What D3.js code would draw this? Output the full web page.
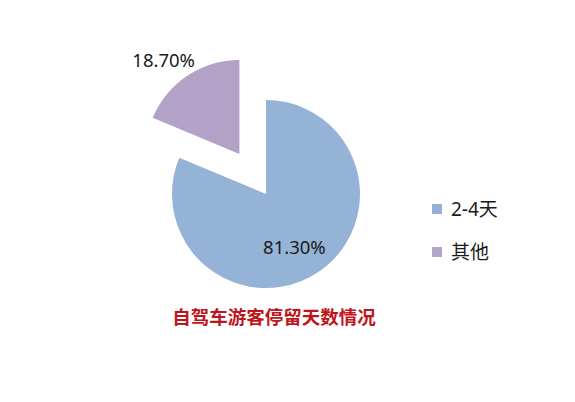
<!DOCTYPE html>
<html>
<head>
<meta charset="utf-8">
<script src="https://cdn.jsdelivr.net/npm/d3@7"></script>
<style>
  body { margin: 0; background: #fff; }
  text { font-family: "Noto Sans", "Noto Sans CJK SC", sans-serif; }
</style>
</head>
<body>
<div id="chart"></div>
<script>
const categories = ["2-4天", "其他"];
const values = [81.3, 18.7];
const valueLabels = ["81.30%", "18.70%"];
const colors = ["#95b3d7", "#b3a2c7"];
const legendColors = ["#95b1d6", "#b1a6c9"];
const title = "自驾车游客停留天数情况";

const width = 575, height = 402;
const cx = 266, cy = 194, radius = 94;
const explode = 48;

const svg = d3.select("#chart").append("svg")
    .attr("width", width)
    .attr("height", height);

const data = categories.map((c, i) => ({name: c, value: values[i], label: valueLabels[i], color: colors[i]}));

const pie = d3.pie()
    .sort(null)
    .value(d => d.value);

const arc = d3.arc().innerRadius(0).outerRadius(radius);
const insideArc = d3.arc().innerRadius(radius * 0.66).outerRadius(radius * 0.66);
const outsideArc = d3.arc().innerRadius(radius * 1.3).outerRadius(radius * 1.3);

const arcs = pie(data);

// slice offsets, the small slice is pulled out
const offset = (d, i) => {
    if (i === 0) return [0, 0];
    const mid = (d.startAngle + d.endAngle) / 2;
    return [Math.sin(mid) * explode, -Math.cos(mid) * explode];
};

const g = svg.append("g").attr("transform", `translate(${cx}, ${cy})`);

const slices = g.selectAll(".slice")
    .data(arcs)
    .enter().append("g")
    .attr("class", "slice")
    .attr("transform", (d, i) => {
        const o = offset(d, i);
        return `translate(${o[0]}, ${o[1]})`;
    });

slices.append("path")
    .attr("d", arc)
    .style("fill", d => d.data.color);

// value labels
slices.append("text")
    .attr("transform", (d, i) => {
        const p = i === 0 ? insideArc.centroid(d) : outsideArc.centroid(d);
        return `translate(${p[0] + (i === 0 ? -6 : -8)}, ${p[1] + (i === 0 ? 2 : 8)})`;
    })
    .attr("dy", "0.35em")
    .style("text-anchor", "middle")
    .style("font-size", "18.5px")
    .style("fill", "#1a1a1a")
    .text(d => d.data.label);

// legend
const legend = svg.selectAll(".legend")
    .data(data)
    .enter().append("g")
    .attr("class", "legend")
    .attr("transform", (d, i) => `translate(432, ${209 + i * 43})`);

legend.append("rect")
    .attr("x", 0)
    .attr("y", -5)
    .attr("width", 10)
    .attr("height", 10)
    .style("fill", (d, i) => legendColors[i]);

legend.append("text")
    .attr("x", 19)
    .attr("y", 0)
    .attr("dy", "0.35em")
    .style("font-size", "19px")
    .style("fill", "#1a1a1a")
    .text(d => d.name);

// title
svg.append("text")
    .attr("x", 274)
    .attr("y", 318)
    .attr("dy", "0.35em")
    .style("text-anchor", "middle")
    .style("font-family", "'Noto Sans CJK SC', sans-serif")
    .style("font-weight", "bold")
    .style("font-size", "18.5px")
    .style("fill", "#c0141c")
    .text(title);
</script>
</body>
</html>
